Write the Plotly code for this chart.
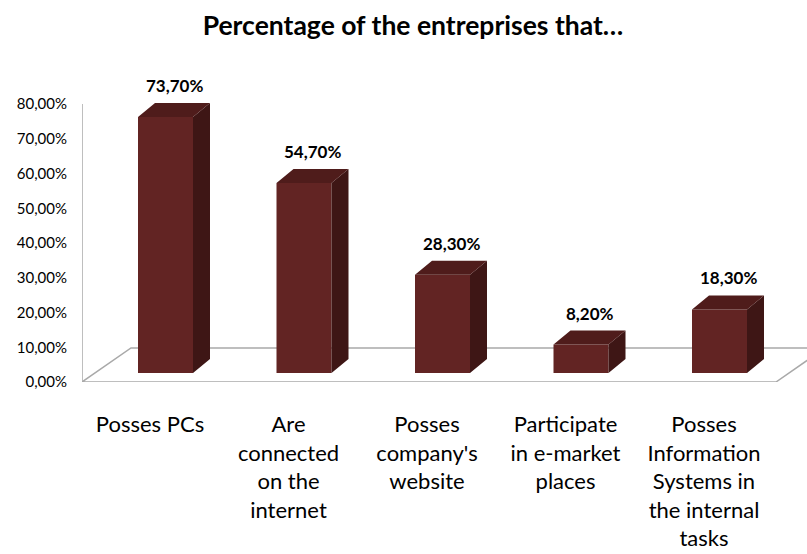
import plotly.graph_objects as go

# ---- data ----
categories = ["Posses PCs", "Are connected on the internet", "Posses company's website",
              "Participate in e-market places", "Posses Information Systems in the internal tasks"]
tick_labels = ["Posses PCs", "Are<br>connected<br>on the<br>internet", "Posses<br>company's<br>website",
               "Participate<br>in e-market<br>places", "Posses<br>Information<br>Systems in<br>the internal<br>tasks"]
values = [73.7, 54.7, 28.3, 8.2, 18.3]
y_ticks = [0, 10, 20, 30, 40, 50, 60, 70, 80]
y_tick_labels = ["0,00%", "10,00%", "20,00%", "30,00%", "40,00%", "50,00%", "60,00%", "70,00%", "80,00%"]
title = "Percentage of the entreprises that…"

# ---- styling / geometry (not data) ----
FRONT = "#622423"
SIDE = "#3e1615"
TOP = "#4f1c1b"
FLOOR_COL = "#a9a9a9"
FONT = "Lato"

W, H = 807, 554
ML, MR, MT, MB = 82, 0, 60, 172
PX_PER_CAT = 138.5
PX_PER_PCT = 3.475
X0 = -(150 - ML) / PX_PER_CAT            # x range start
X1 = X0 + (W - ML - MR) / PX_PER_CAT
Y_TOP = (H - MT - MB) / PX_PER_PCT
BAR_LIFT = 9 / PX_PER_PCT                 # bars sit back on the floor
BAR_W = 55 / PX_PER_CAT
BAR_OFF = -12 / PX_PER_CAT
DX = 17 / PX_PER_CAT                      # bar depth
DY = 14 / PX_PER_PCT
FDX = 49 / PX_PER_CAT                     # floor depth
FDY = 34 / PX_PER_PCT
FLOOR_RIGHT = X0 + 694 / PX_PER_CAT

idx = list(range(len(categories)))

fig = go.Figure()
fig.add_trace(go.Bar(x=idx, y=values, width=BAR_W, offset=BAR_OFF, yaxis="y2",
                     marker=dict(color=FRONT, line=dict(width=0)), hoverinfo="skip",
                     showlegend=False))

side_x, side_y, top_x, top_y = [], [], [], []
for i, v in zip(idx, values):
    xl = i + BAR_OFF
    xr = xl + BAR_W
    side_x += [xr, xr + DX, xr + DX, xr, xr, None]
    side_y += [0, DY, v + DY, v, 0, None]
    top_x += [xl, xr, xr + DX, xl + DX, xl, None]
    top_y += [v, v, v + DY, v + DY, v, None]

fig.add_trace(go.Scatter(x=side_x, y=side_y, yaxis="y2", mode="lines", fill="toself",
                         fillcolor=SIDE, line=dict(width=0, color=SIDE), hoverinfo="skip",
                         showlegend=False))
fig.add_trace(go.Scatter(x=top_x, y=top_y, yaxis="y2", mode="lines", fill="toself",
                         fillcolor=TOP, line=dict(width=0, color=TOP), hoverinfo="skip",
                         showlegend=False))

for i, v in zip(idx, values):
    fig.add_annotation(x=i + BAR_OFF + BAR_W / 2 + DX / 2, y=v + DY, xref="x", yref="y2",
                       text=f"{v:.2f}%".replace(".", ","), showarrow=False,
                       yanchor="bottom", yshift=5,
                       font=dict(family=FONT, size=17, color="#000000", weight="bold"))

# floor and wall edge
floor_path = (f"M {X0} 0 L {FLOOR_RIGHT} 0 L {FLOOR_RIGHT + FDX} {FDY} "
              f"L {X0 + FDX} {FDY} Z")
fig.add_shape(type="path", path=floor_path, xref="x", yref="y",
              line=dict(color=FLOOR_COL, width=1.5), layer="below")
fig.add_shape(type="line", x0=X0, x1=X0, y0=0, y1=y_ticks[-1], xref="x", yref="y",
              line=dict(color=FLOOR_COL, width=1.5), layer="below")

fig.update_layout(
    width=W, height=H,
    margin=dict(l=ML, r=MR, t=MT, b=MB),
    paper_bgcolor="white", plot_bgcolor="white",
    title=dict(text=f"<b>{title}</b>", x=413 / W, xanchor="center", y=1 - 26 / H,
               yanchor="middle", font=dict(family=FONT, size=26.5, color="#000000")),
    xaxis=dict(range=[X0, X1], tickvals=idx, ticktext=tick_labels, showgrid=False,
               zeroline=False, showline=False, ticks="", ticklabelstandoff=27,
               tickfont=dict(family=FONT, size=22, color="#000000")),
    yaxis=dict(range=[0, Y_TOP], tickvals=y_ticks, ticktext=y_tick_labels,
               showgrid=False, zeroline=False, showline=False, ticks="",
               ticklabelstandoff=14, tickfont=dict(family=FONT, size=15, color="#000000")),
    yaxis2=dict(range=[-BAR_LIFT, Y_TOP - BAR_LIFT], overlaying="y", visible=False),
)

fig.write_html("out.html")
